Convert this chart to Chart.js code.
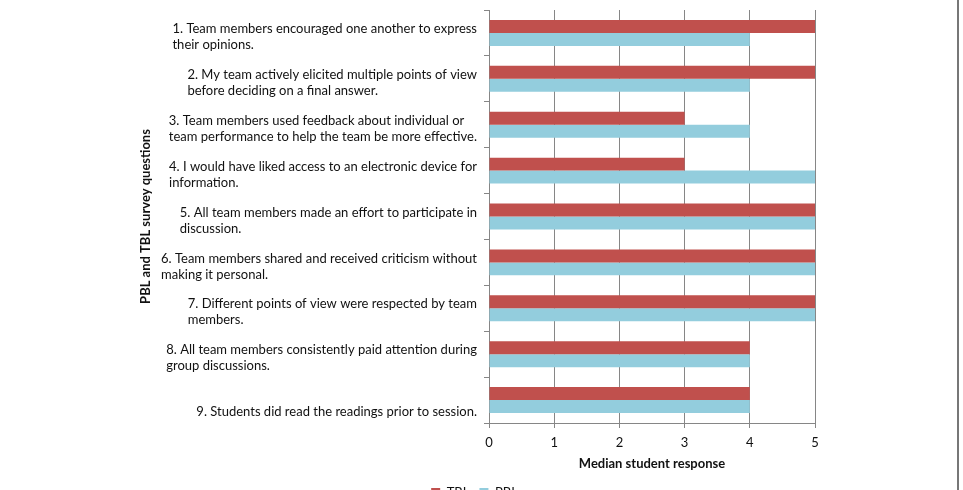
<!DOCTYPE html>
<html>
<head>
<meta charset="utf-8">
<script src="https://cdn.jsdelivr.net/npm/chart.js@4.4.0/dist/chart.umd.min.js"></script>
<style>
  html, body { margin: 0; padding: 0; background: #fff; overflow: hidden; }
  #wrap { position: relative; width: 957px; height: 490px; overflow: hidden; border-right: 2px solid #777; }
  #chart { display: block; }
</style>
</head>
<body>
<div id="wrap"><canvas id="chart" width="957" height="509"></canvas></div>
<script>
// survey questions, one array of lines per question
const questions = [
  ['1. Team members encouraged one another to express', 'their opinions.'],
  ['2. My team actively elicited multiple points of view', 'before deciding on a final answer.'],
  ['3. Team members used feedback about individual or', 'team performance to help the team be more effective.'],
  ['4. I would have liked access to an electronic device for', 'information.'],
  ['5. All team members made an effort to participate in', 'discussion.'],
  ['6. Team members shared and received criticism without', 'making it personal.'],
  ['7. Different points of view were respected by team', 'members.'],
  ['8. All team members consistently paid attention during', 'group discussions.'],
  ['9. Students did read the readings prior to session.']
];
const tblMedians = [5, 5, 3, 3, 5, 5, 5, 4, 4];
const pblMedians = [4, 4, 4, 5, 5, 5, 5, 4, 4];
const xMin = 0;
const xMax = 5;

const FONT = 'Lato, "Open Sans", sans-serif';
const axisGrey = '#868686';
const textColor = '#111';

// draws the question labels: each block left aligned, block pushed to the axis
const questionLabels = {
    id: 'questionLabels',
    afterDraw(chart) {
        const ctx = chart.ctx;
        const y = chart.scales.y;
        const right = y.right - 12;
        ctx.save();
        ctx.font = '13px ' + FONT;
        ctx.fillStyle = textColor;
        ctx.textBaseline = 'middle';
        ctx.textAlign = 'left';
        questions.forEach((lines, i) => {
            const w = Math.max(...lines.map(l => ctx.measureText(l).width));
            const cy = y.getPixelForValue(i);
            lines.forEach((line, j) => {
                ctx.fillText(line, right - w, cy + 12 - 16 * (lines.length - 1 - j));
            });
        });
        ctx.restore();
    }
};

new Chart(document.getElementById('chart'), {
    type: 'bar',
    data: {
        labels: questions.map(q => q.join(' ')),
        datasets: [
            {
                label: 'TBL',
                data: tblMedians,
                backgroundColor: '#C0504D',
                borderWidth: 0,
                categoryPercentage: 0.565,
                barPercentage: 1
            },
            {
                label: 'PBL',
                data: pblMedians,
                backgroundColor: '#93CDDD',
                borderWidth: 0,
                categoryPercentage: 0.565,
                barPercentage: 1
            }
        ]
    },
    options: {
        indexAxis: 'y',
        responsive: false,
        animation: false,
        layout: { padding: { left: 134, top: 10, right: 142, bottom: 0 } },
        scales: {
            x: {
                min: xMin,
                max: xMax,
                ticks: { stepSize: 1, padding: 7, color: textColor, font: { family: FONT, size: 13 } },
                grid: { color: axisGrey, tickLength: 5 },
                border: { color: axisGrey },
                title: {
                    display: true,
                    text: 'Median student response',
                    color: textColor,
                    padding: { top: 4, bottom: 4 },
                    font: { family: FONT, size: 13, weight: 'bold' }
                },
                afterFit: s => { s.height = 53; }
            },
            y: {
                ticks: { display: false },
                grid: { offset: true, drawOnChartArea: false, color: axisGrey, tickLength: 5 },
                border: { color: axisGrey },
                title: {
                    display: true,
                    text: 'PBL and TBL survey questions',
                    color: textColor,
                    font: { family: FONT, size: 13, weight: 'bold' }
                },
                afterFit: s => { s.width = 355; }
            }
        },
        plugins: {
            legend: {
                position: 'bottom',
                labels: { boxWidth: 9, boxHeight: 9, padding: 10, color: textColor, font: { family: FONT, size: 13 } }
            },
            tooltip: { enabled: false }
        }
    },
    plugins: [questionLabels]
});
</script>
</body>
</html>
